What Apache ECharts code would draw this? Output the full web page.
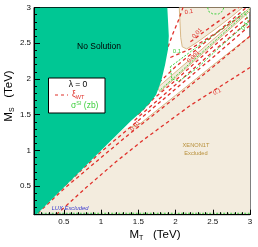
<!DOCTYPE html>
<html><head><meta charset="utf-8">
<script src="https://cdn.jsdelivr.net/npm/echarts@6/dist/echarts.min.js"></script>
<style>html,body{margin:0;padding:0;background:#fff}#c{width:258px;height:247px}</style>
</head><body><div id="c"></div>
<script>
// ---- data (TeV) ----
const majorTicks = [0.5, 1, 1.5, 2, 2.5, 3];
const minorTicks = [0.1,0.2,0.3,0.4,0.5,0.6,0.7,0.8,0.9,1.0,1.1,1.2,1.3,1.4,1.5,1.6,1.7,1.8,1.9,2.0,2.1,2.2,2.3,2.4,2.5,2.6,2.7,2.8,2.9,3.0];

// regions
const noSolution = [[0.1,0.1],[0.13,0.1],[1.0,1.0],[1.4,1.41],[1.56,1.56],[1.66,1.67],[1.74,1.78],[1.81,1.98],[1.86,2.2],[1.9,2.42],[1.91,2.6],[1.9,2.8],[1.89,3.0],[0.1,3.0]];
const xenonMain = [[0.13,0.1],[1.3,1.3],[1.4,1.33],[1.52,1.37],[2.0,1.77],[2.5,2.19],[3.0,2.6],[3.0,0.1]];
const xenonWedge = [[2.05,3.0],[2.06,2.8],[2.07,2.58],[2.09,2.45],[2.15,2.42],[2.3,2.52],[2.55,2.71],[2.75,2.87],[2.9,3.0]];
const xenonBand = [[1.76,1.88],[3.0,3.0],[3.0,2.95],[1.79,1.82]];

// xi_WT contours (red dashed)
const xiA = [[0.4,0.1],[0.8,0.48],[1.2,0.84],[1.56,1.14],[2.2,1.63],[3.0,2.16]];
const xiB = [[0.15,0.12],[0.5,0.46],[1.0,0.9],[1.38,1.23],[2.0,1.74],[2.6,2.25],[3.0,2.6]];
const xiC = [[0.2,0.2],[1.0,0.98],[1.4,1.33],[2.0,1.86],[2.5,2.3],[3.0,2.75]];
const xiI = [[1.45,1.42],[2.0,1.92],[2.5,2.38],[3.0,2.82]];
const xiD = [[1.5,1.5],[1.7,1.72],[2.0,1.98],[2.5,2.45],[3.0,2.89]];
const xiE = [[1.78,1.95],[2.0,2.17],[2.5,2.6],[2.95,3.0]];
const xiH = [[1.93,2.3],[2.2,2.42],[2.6,2.68],[2.9,2.9]];
const xiF = [[1.9,2.45],[1.96,2.62],[2.04,2.82],[2.1,3.0]];
const xiG = [[2.2,2.52],[2.5,2.75],[2.8,2.97],[2.85,3.0]];

// sigma_SI contours (green dashed)
const sigTop = [[2.43,3.0],[2.45,2.94],[2.5,2.91],[2.58,2.91],[2.63,2.95],[2.65,3.0]];
const sigLoop = [[1.93,2.17],[2.2,2.38],[2.6,2.68],[2.93,2.94],[2.98,2.8],[2.6,2.45],[2.3,2.16],[2.05,1.97],[1.95,2.0],[1.93,2.17]];
const sigBand = [[1.8,1.85],[3.0,2.975]];
const sigBottom = [[0.15,0.12],[3.0,0.12]];
const luxLine = [[0.13,0.104],[0.9,0.104]];

// contour labels
const xiLabels = [["0.1",2.56,1.82,22],["0.01",1.46,1.34,48],["0.01",2.29,2.64,45],["0.001",2.24,2.31,42],["0.1",2.18,2.94,10]];
const sigLabels = [["0.1",2.02,2.38,0],["0.1",2.93,2.74,55]];

// ---- chart ----
const RED = '#e0302a', GREEN = '#3ccf3c', TAN = '#d8b887', TEAL = '#00c794', BEIGE = '#f3ecde';
function poly(points, fill, stroke, z) {
  return {type:'custom', coordinateSystem:'cartesian2d', silent:true, z:z, clip:true,
    data:[[0.1,0.1]],
    renderItem:function(params, api){
      return {type:'polygon', shape:{points: points.map(p=>api.coord(p))},
        style:{fill:fill, stroke:stroke||null, lineWidth: stroke?1:0}};
    }};
}
function dline(data, color, dash, w, z) {
  return {type:'line', data:data, symbol:'none', silent:true, z:z, clip:true,
    lineStyle:{color:color, type:dash, width:w}};
}
function labels(list, color, z) {
  return {type:'custom', coordinateSystem:'cartesian2d', silent:true, z:z,
    data:list.map(l=>[l[1],l[2]]),
    renderItem:function(params, api){
      const l = list[params.dataIndex];
      const p = api.coord([l[1], l[2]]);
      return {type:'text', x:p[0], y:p[1], rotation:l[3]*Math.PI/180,
        style:{text:l[0], fill:color, font:'6px "Liberation Sans"', align:'center', verticalAlign:'middle'}};
    }};
}

const chart = echarts.init(document.getElementById('c'), null, {renderer:'canvas'});
const axisCommon = {type:'value', min:0.1, max:3, splitLine:{show:false}};
const RD = [3.5,3];
chart.setOption({
  animation:false,
  grid:{left:34, right:8, top:7.5, bottom:32.3, show:true, borderColor:'#000', borderWidth:1, backgroundColor:'#fff', z:0},
  xAxis:[
    Object.assign({}, axisCommon, {z:10, axisLine:{show:true, lineStyle:{color:'#000', width:1}},
      axisTick:{show:true, inside:true, length:5, customValues:majorTicks, lineStyle:{color:'#000'}},
      axisLabel:{customValues:majorTicks, margin:3, color:'#111', fontSize:8, fontFamily:'Liberation Sans'}}),
    Object.assign({}, axisCommon, {z:10, position:'bottom', axisLine:{show:false},
      axisTick:{show:true, inside:true, length:2.5, customValues:minorTicks, lineStyle:{color:'#000'}},
      axisLabel:{show:false}})
  ],
  yAxis:[
    Object.assign({}, axisCommon, {z:10, axisLine:{show:true, lineStyle:{color:'#000', width:1}},
      axisTick:{show:true, inside:true, length:6, customValues:majorTicks, lineStyle:{color:'#000'}},
      axisLabel:{customValues:majorTicks, margin:3, color:'#111', fontSize:8, fontFamily:'Liberation Sans'}}),
    Object.assign({}, axisCommon, {z:10, position:'left', axisLine:{show:false},
      axisTick:{show:true, inside:true, length:3, customValues:minorTicks, lineStyle:{color:'#000'}},
      axisLabel:{show:false}})
  ],
  series:[
    poly(xenonMain, BEIGE, null, 1),
    poly(xenonWedge, BEIGE, TAN, 1),
    poly(xenonBand, BEIGE, TAN, 1),
    dline(xenonMain.slice(2,7), TAN, 'solid', 1, 2),
    dline(xiA, RED, RD, 1.3, 3),
    dline(xiB, RED, RD, 1.3, 3),
    dline(xiC, RED, RD, 1.3, 3),
    dline(xiI, RED, RD, 1.3, 3),
    dline(xiD, RED, RD, 1.3, 3),
    dline(xiE, RED, RD, 1.3, 3),
    dline(xiH, RED, RD, 1.3, 3),
    dline(xiF, RED, RD, 1.3, 3),
    dline(xiG, RED, RD, 1.3, 3),
    dline(sigTop, GREEN, [2,1.5], 1, 3),
    dline(sigLoop, GREEN, [2,1.5], 1, 3),
    dline(sigBand, GREEN, [2,1.5], 1, 3),
    dline(sigBottom, GREEN, [2,1.5], 1, 3),
    dline(luxLine, '#3a3ad0', 'solid', 1, 3),
    poly(noSolution, TEAL, null, 4),
    labels(xiLabels, RED, 5),
    labels(sigLabels, GREEN, 5)
  ],
  graphic:[
    {type:'text', x:99, y:47, z:20, style:{text:'No Solution', font:'8.5px "Liberation Sans"', fill:'#000', align:'center', verticalAlign:'middle'}},
    {type:'rect', z:20, shape:{x:48.5, y:78, width:56.5, height:35}, style:{fill:'#fff', stroke:'#000', lineWidth:1}},
    {type:'text', x:78, y:84.5, z:21, style:{text:'λ = 0', font:'8.5px "Liberation Sans"', fill:'#000', align:'center', verticalAlign:'middle'}},
    {type:'line', z:21, shape:{x1:55, y1:95, x2:68, y2:95}, style:{stroke:RED, lineWidth:1.2, lineDash:[3,3]}},
    {type:'text', x:72, y:95, z:21, style:{text:'{a|ξ}{s|WT}', align:'left', verticalAlign:'middle',
      rich:{a:{fill:RED, font:'8.5px "Liberation Sans"'}, s:{fill:RED, font:'5.5px "Liberation Sans"', padding:[5,0,0,0]}}}},
    {type:'text', x:71, y:106, z:21, style:{text:'{a|σ}{s|SI}{a| (zb)}', align:'left', verticalAlign:'middle',
      rich:{a:{fill:GREEN, font:'8.5px "Liberation Sans"'}, s:{fill:GREEN, font:'5.5px "Liberation Sans"', padding:[0,0,5,0]}}}},
    {type:'text', x:196, y:149, z:20, style:{text:'XENON1T\nExcluded', font:'5.7px "Liberation Sans"', lineHeight:8, fill:'#b8903a', align:'center', verticalAlign:'middle'}},
    {type:'text', x:70, y:208.5, z:20, style:{text:'LUX Excluded', font:'italic 5.8px "Liberation Sans"', fill:'#3a3ad0', align:'center', verticalAlign:'middle'}},
    {type:'text', x:155, y:235, z:20, style:{text:'{a|M}{s|T}{a|   (TeV)}', align:'center', verticalAlign:'middle',
      rich:{a:{fill:'#000', font:'11.5px "Liberation Sans"'}, s:{fill:'#000', font:'7px "Liberation Sans"', padding:[6,0,0,0]}}}},
    {type:'text', x:9, y:96, z:20, rotation:Math.PI/2, style:{text:'{a|M}{s|S}{a|   (TeV)}', align:'center', verticalAlign:'middle',
      rich:{a:{fill:'#000', font:'11.5px "Liberation Sans"'}, s:{fill:'#000', font:'7px "Liberation Sans"', padding:[6,0,0,0]}}}}
  ]
});
</script></body></html>
